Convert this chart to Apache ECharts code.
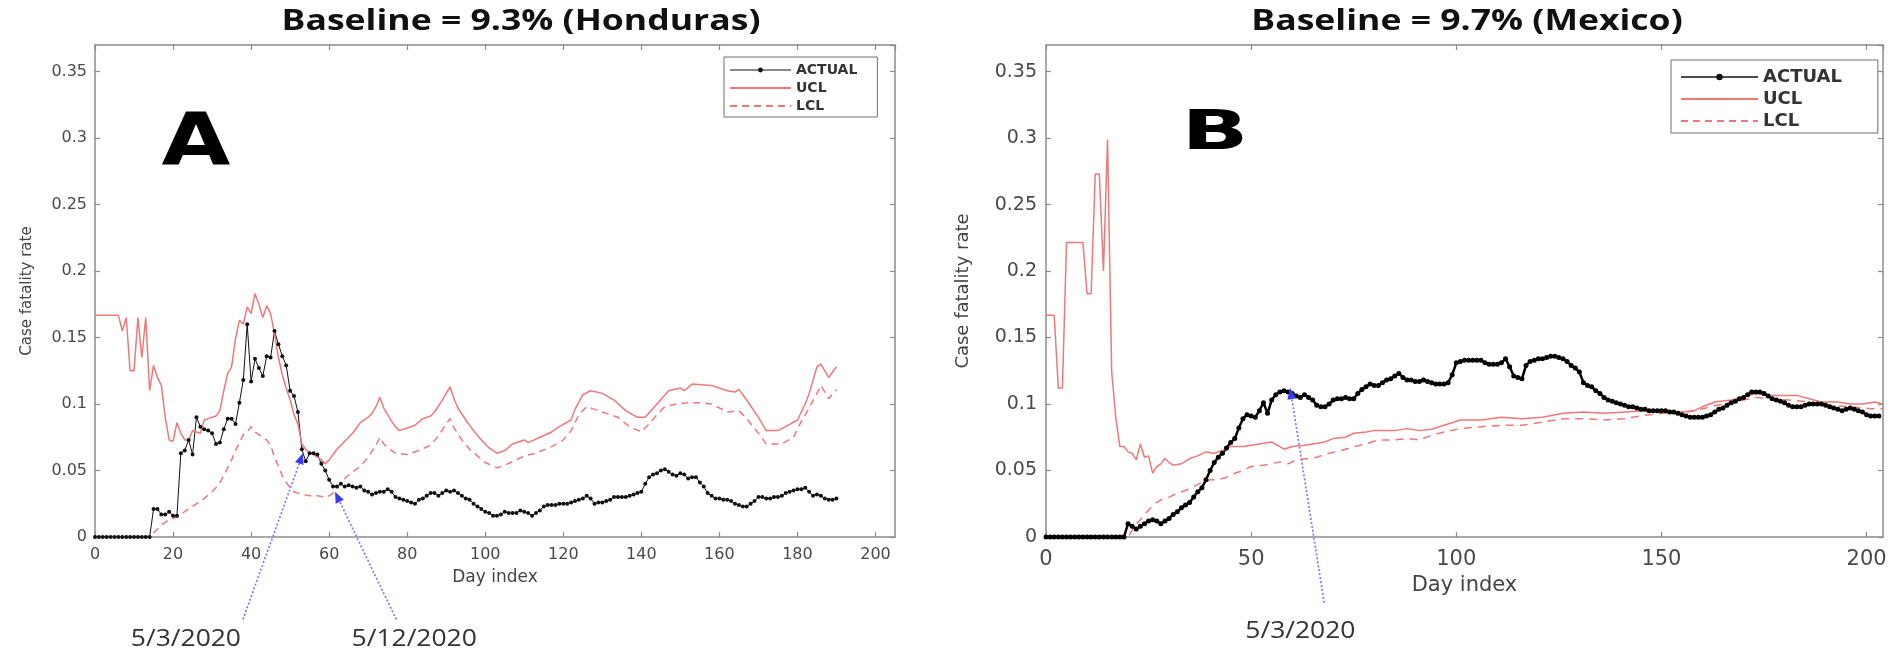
<!DOCTYPE html>
<html>
<head>
<meta charset="utf-8">
<title>Case fatality rate - control limits</title>
<script src="https://cdn.jsdelivr.net/npm/echarts/dist/echarts.min.js"></script>
<style>
    html, body { margin: 0; padding: 0; background: #fff; }
    #chart { width: 1888px; height: 653px; }
</style>
</head>
<body>
<div id="chart"></div>
<script>
(function() {
    'use strict';

    // ---- data (index = day) ----
    var titles = ['Baseline = 9.3% (Honduras)', 'Baseline = 9.7% (Mexico)'];
    var panelLetters = ['A', 'B'];
    var legendNames = ['ACTUAL', 'UCL', 'LCL'];
    var yTicks = [0, 0.05, 0.1, 0.15, 0.2, 0.25, 0.3, 0.35];

    // Honduras, observed CFR per day 0..190
    var actualA = [
        0, 0, 0, 0, 0, 0, 0, 0, 0, 0, 0, 0, 0, 0, 0,
        .021, .021, .017, .017, .019, .016, .016,
        .063, .065, .073, .062, .090, .083, .081, .080, .078, .070,
        .071, .081, .089, .089, .085, .101, .118, .160, .117, .134,
        .127, .121, .136, .135, .155, .145, .136, .129, .110, .106,
        .094, .066, .057, .063, .063, .062, .055, .050, .043, .038,
        .038, .040, .038, .039, .038, .037, .038, .035, .034, .032,
        .033, .034, .034, .036, .034, .030, .029, .028, .027, .026,
        .025, .028, .029, .031, .033, .033, .031, .033, .035, .034,
        .035, .033, .031, .029, .028, .025, .023, .021, .019, .018,
        .016, .016, .017, .019, .018, .018, .018, .020, .019, .018,
        .016, .018, .020, .023, .024, .024, .024, .025, .025, .025,
        .026, .027, .028, .029, .031, .029, .025, .026, .026, .027,
        .028, .030, .030, .030, .030, .031, .032, .033, .034, .040,
        .045, .047, .048, .050, .051, .049, .047, .046, .048, .047,
        .044, .045, .045, .041, .038, .033, .031, .029, .029, .028,
        .028, .027, .025, .024, .023, .023, .025, .027, .030, .030,
        .029, .029, .030, .030, .031, .033, .034, .035, .036, .036,
        .037, .034, .031, .032, .031, .029, .028, .028, .029
    ];
    // Honduras limits, [day, value]
    var uclA = [
        [0, .1667], [6, .1667], [7, .155], [8, .165], [9, .125], [10, .125], [11, .165], [12, .135],
        [13, .165], [14, .11], [15, .129], [16, .12], [17, .114], [18, .09], [19, .073], [20, .072],
        [21, .086], [22, .078], [23, .073], [24, .073], [25, .080], [26, .079], [27, .078], [28, .088],
        [29, .089], [30, .090], [31, .091], [32, .095], [33, .110], [34, .123], [35, .128], [36, .149],
        [37, .163], [38, .160], [39, .173], [40, .168], [41, .183], [42, .175], [43, .165], [44, .174],
        [45, .168], [46, .153], [47, .135], [48, .122], [49, .112], [50, .103], [51, .092], [52, .085],
        [53, .070], [54, .066], [55, .063], [56, .062], [57, .060], [58, .058], [59, .055], [60, .058],
        [61, .062], [62, .066], [63, .069], [64, .072], [65, .075], [66, .078], [67, .082], [68, .086],
        [69, .088], [70, .090], [71, .093], [72, .098], [73, .105], [74, .097], [75, .092], [76, .087],
        [77, .083], [78, .080], [80, .082], [82, .084], [84, .089], [86, .091], [87, .094], [89, .103],
        [91, .113], [92, .104], [93, .097], [95, .088], [97, .080], [99, .073], [101, .067], [103, .063],
        [105, .065], [107, .070], [110, .073], [111, .071], [114, .075], [117, .079], [119, .083],
        [122, .088], [123, .096], [125, .107], [127, .110], [130, .108], [133, .103], [136, .095],
        [139, .090], [141, .090], [144, .100], [147, .110], [150, .112], [151, .110], [153, .115],
        [158, .114], [162, .110], [164, .109], [165, .111], [167, .103], [170, .090], [172, .080],
        [175, .080], [177, .083], [180, .088], [182, .100], [183, .108], [185, .128], [186, .130],
        [188, .120], [190, .128]
    ];
    var lclA = [
        [0, 0], [14, 0], [15, .003], [16, .006], [17, .009], [18, .011], [19, .013], [20, .014],
        [21, .015], [22, .017], [23, .019], [25, .023], [27, .027], [28, .029], [30, .034], [31, .037],
        [32, .041], [33, .046], [34, .052], [35, .058], [36, .065], [37, .071], [38, .077], [39, .079],
        [40, .083], [41, .079], [42, .077], [43, .075], [44, .073], [45, .069], [46, .060], [47, .053],
        [48, .046], [49, .041], [50, .037], [51, .034], [53, .032], [55, .031], [57, .031], [59, .030],
        [60, .031], [61, .033], [62, .036], [63, .041], [64, .044], [66, .049], [68, .053], [70, .060],
        [72, .069], [73, .075], [74, .070], [75, .067], [77, .063], [80, .062], [83, .065], [86, .069],
        [88, .076], [90, .085], [91, .089], [92, .082], [94, .073], [96, .066], [98, .061], [100, .056],
        [103, .052], [105, .054], [108, .058], [110, .061], [113, .063], [117, .068], [120, .073],
        [122, .080], [124, .092], [126, .098], [128, .096], [130, .094], [134, .090], [137, .083],
        [140, .079], [142, .085], [144, .092], [146, .098], [149, .100], [152, .101], [155, .101],
        [158, .100], [160, .097], [162, .094], [165, .095], [167, .089], [170, .078], [172, .070],
        [176, .070], [179, .075], [181, .087], [183, .097], [185, .108], [186, .114], [188, .104],
        [190, .111]
    ];

    // Mexico, observed CFR per day 0..203
    var actualB = [
        0, 0, 0, 0, 0, 0, 0, 0, 0, 0, 0, 0, 0, 0, 0, 0, 0, 0, 0, 0,
        .010, .008, .006, .008, .010, .012, .013, .012, .010, .012,
        .014, .017, .019, .022, .024, .026, .030, .034, .037, .043,
        .050, .056, .060, .063, .067, .071, .074, .082, .089, .092,
        .091, .090, .095, .101, .093, .103, .107, .109, .110, .109,
        .108, .106, .105, .107, .105, .103, .099, .098, .098, .100,
        .103, .104, .104, .105, .104, .104, .108, .111, .113, .115,
        .114, .114, .116, .118, .119, .121, .123, .120, .118, .118,
        .117, .117, .118, .117, .116, .115, .115, .115, .116, .122,
        .131, .132, .133, .133, .133, .133, .133, .131, .130, .130,
        .130, .131, .134, .128, .121, .120, .119, .129, .132, .133,
        .134, .134, .135, .136, .136, .135, .134, .132, .129, .127,
        .124, .116, .114, .113, .110, .108, .105, .103, .102, .101,
        .100, .099, .098, .098, .097, .096, .096, .095, .095, .095,
        .095, .095, .094, .094, .093, .092, .091, .090, .090, .090,
        .090, .091, .092, .094, .096, .097, .099, .101, .102, .104,
        .105, .107, .109, .109, .109, .108, .106, .104, .103, .102,
        .101, .099, .098, .098, .098, .099, .100, .100, .100, .100,
        .099, .098, .097, .096, .095, .096, .097, .096, .095, .094,
        .092, .091, .091, .091
    ];
    var uclB = [
        [0, .1667], [2, .1667], [3, .112], [4, .112], [5, .2215], [9, .2215], [10, .183], [11, .183],
        [12, .273], [13, .273], [14, .20], [15, .299], [16, .125], [17, .09], [18, .068], [19, .068],
        [20, .064], [21, .063], [22, .058], [23, .070], [24, .060], [25, .061], [26, .048], [27, .053],
        [28, .055], [29, .059], [30, .056], [31, .054], [33, .055], [35, .059], [37, .061], [39, .064],
        [41, .063], [43, .065], [45, .068], [48, .068], [50, .069], [52, .070], [55, .0715], [57, .068],
        [58, .066], [60, .068], [63, .069], [65, .070], [68, .0715], [70, .074], [73, .075], [75, .078],
        [78, .079], [80, .080], [85, .080], [88, .0815], [91, .080], [94, .081], [97, .084], [101, .088],
        [106, .088], [111, .090], [116, .089], [121, .090], [126, .093], [131, .094], [136, .093],
        [141, .094], [146, .095], [150, .095], [155, .094], [158, .095], [160, .098], [163, .1015],
        [167, .103], [170, .105], [173, .108], [176, .1065], [183, .1065], [186, .104], [189, .1015],
        [193, .1015], [196, .100], [199, .100], [202, .1015], [204, .100]
    ];
    var lclB = [
        [0, 0], [20, 0], [21, .005], [22, .010], [23, .013], [24, .017], [25, .020], [26, .024],
        [27, .026], [28, .028], [30, .030], [32, .033], [34, .035], [36, .038], [38, .041], [40, .043],
        [42, .043], [44, .045], [46, .048], [48, .050], [50, .053], [53, .054], [55, .055], [57, .0565],
        [59, .055], [61, .058], [64, .059], [66, .060], [69, .063], [72, .065], [75, .068], [78, .070],
        [81, .073], [85, .073], [88, .074], [91, .073], [94, .0765], [97, .079], [101, .0815],
        [106, .083], [111, .084], [116, .084], [121, .0865], [126, .089], [131, .089], [136, .088],
        [141, .089], [146, .0915], [150, .093], [155, .093], [160, .0965], [165, .100], [170, .103],
        [173, .105], [176, .104], [181, .103], [186, .1015], [191, .099], [196, .098], [201, .0965],
        [204, .0965]
    ];

    // date call-outs, in data units of each panel
    var notesA = [
        {label: '5/3/2020', tail: [37.9, -0.062], head: [53.3, 0.063], at: [23.3, -0.077]},
        {label: '5/12/2020', tail: [77.2, -0.062], head: [61.5, 0.034], at: [81.8, -0.077]}
    ];
    var notesB = [
        {label: '5/3/2020', tail: [67.8, -0.0495], head: [59.5, 0.112], at: [62, -0.071]}
    ];

    // ---- styling ----
    var FONT = 'DejaVu Sans';
    var AXIS_GRAY = '#8c8c8c';
    var LABEL_GRAY = '#4a4a4a';
    var LIMIT_RED = '#f07878';
    var Y_MAX = 0.37;

    var panels = [
        {xMax: 205, xStep: 20, xLabel: 16, xMargin: 10, xName: 17, xNameGap: 32,
         yLabel: 16, yMargin: 8, yName: 15, yNameGap: 60},
        {xMax: 204, xStep: 50, xLabel: 21, xMargin: 12, xName: 21, xNameGap: 38,
         yLabel: 19, yMargin: 9, yName: 18, yNameGap: 74}
    ];

    function fmtY(v) {
        return v === 0 ? '0' : String(+v.toFixed(2));
    }

    function xAxisFor(g, pos) {
        var p = panels[g];
        return {
            type: 'value', gridIndex: g, position: pos,
            min: 0, max: p.xMax, interval: p.xStep,
            name: pos === 'bottom' ? 'Day index' : '',
            nameLocation: 'middle', nameGap: p.xNameGap,
            nameTextStyle: {fontFamily: FONT, fontSize: p.xName, color: '#444'},
            axisLine: {show: true, onZero: false, lineStyle: {color: AXIS_GRAY, width: 1.5}},
            axisTick: {show: true, inside: true, length: 5, lineStyle: {color: AXIS_GRAY, width: 1.2}},
            axisLabel: {show: pos === 'bottom', showMaxLabel: false, margin: p.xMargin,
                fontFamily: FONT, fontSize: p.xLabel, color: LABEL_GRAY},
            splitLine: {show: false}
        };
    }

    function yAxisFor(g, pos) {
        var p = panels[g];
        return {
            type: 'value', gridIndex: g, position: pos,
            min: 0, max: Y_MAX, interval: yTicks[1] - yTicks[0],
            name: pos === 'left' ? 'Case fatality rate' : '',
            nameLocation: 'middle', nameGap: p.yNameGap, nameRotate: 90,
            nameTextStyle: {fontFamily: FONT, fontSize: p.yName, color: '#444'},
            axisLine: {show: true, onZero: false, lineStyle: {color: AXIS_GRAY, width: 1.5}},
            axisTick: {show: true, inside: true, length: 5, lineStyle: {color: AXIS_GRAY, width: 1.2}},
            axisLabel: {show: pos === 'left', showMaxLabel: false, margin: p.yMargin,
                formatter: fmtY, fontFamily: FONT, fontSize: p.yLabel, color: LABEL_GRAY},
            splitLine: {show: false}
        };
    }

    function toPairs(arr) {
        return arr.map(function(v, i) { return [i, v]; });
    }

    function lineSeries(name, axis, data, style) {
        return {
            name: name, type: 'line', xAxisIndex: axis, yAxisIndex: axis,
            data: data,
            symbol: style.dot ? 'circle' : 'none',
            symbolSize: style.dot || 0,
            showSymbol: !!style.dot,
            itemStyle: {color: style.color},
            lineStyle: {color: style.color, width: style.width, type: style.type || 'solid'},
            emphasis: {disabled: true},
            silent: true
        };
    }

    // legend: limits are drawn as a bare line, no marker
    function legendFor(left, top, s) {
        return {
            data: legendNames.map(function(n) {
                if (n === 'ACTUAL') {
                    return {name: n, lineStyle: {width: s.actualW}};
                }
                return {name: n, itemStyle: {color: 'rgba(0,0,0,0)', opacity: 0}};
            }),
            orient: 'vertical', left: left, top: top,
            itemWidth: s.itemW, itemHeight: s.itemH, itemGap: s.gap,
            padding: s.pad,
            borderColor: '#6e6e6e', borderWidth: 1, borderRadius: 0,
            backgroundColor: '#fff',
            selectedMode: false,
            textStyle: {fontFamily: FONT, fontSize: s.font, fontWeight: 'bold', color: '#333'}
        };
    }

    var chart = echarts.init(document.getElementById('chart'), null, {renderer: 'canvas'});

    chart.setOption({
        animation: false,
        backgroundColor: '#fff',
        grid: [
            {left: 95, top: 45, width: 800, height: 492, outerBoundsMode: 'none'},
            {left: 1046, top: 45, width: 837, height: 492, outerBoundsMode: 'none'}
        ],
        xAxis: [xAxisFor(0, 'bottom'), xAxisFor(0, 'top'), xAxisFor(1, 'bottom'), xAxisFor(1, 'top')],
        yAxis: [yAxisFor(0, 'left'), yAxisFor(0, 'right'), yAxisFor(1, 'left'), yAxisFor(1, 'right')],
        legend: [
            legendFor(724, 57, {itemW: 61, itemH: 6, gap: 4, pad: [6, 20, 4, 5], font: 14, actualW: 1}),
            legendFor(1671, 60, {itemW: 77, itemH: 8, gap: 4, pad: [8, 36, 3, 9], font: 18, actualW: 1.5})
        ],
        series: [
            lineSeries('ACTUAL', 0, toPairs(actualA), {color: '#111', width: 1, dot: 4}),
            lineSeries('UCL', 0, uclA, {color: LIMIT_RED, width: 1.5}),
            lineSeries('LCL', 0, lclA, {color: LIMIT_RED, width: 1.5, type: [7, 5]}),
            lineSeries('ACTUAL', 2, toPairs(actualB), {color: '#000', width: 2.5, dot: 5}),
            lineSeries('UCL', 2, uclB, {color: LIMIT_RED, width: 1.5}),
            lineSeries('LCL', 2, lclB, {color: LIMIT_RED, width: 1.5, type: [8, 6]})
        ]
    });

    // titles, big panel letters and the dated arrows (arrows need pixel positions)
    function callouts(seriesIndex, notes) {
        var out = [];
        notes.forEach(function(n) {
            var p0 = chart.convertToPixel({seriesIndex: seriesIndex}, n.tail);
            var p1 = chart.convertToPixel({seriesIndex: seriesIndex}, n.head);
            var pt = chart.convertToPixel({seriesIndex: seriesIndex}, n.at);
            var ang = Math.atan2(p1[1] - p0[1], p1[0] - p0[0]);
            var len = 11, half = 4.5;
            var bx = p1[0] - len * Math.cos(ang), by = p1[1] - len * Math.sin(ang);
            out.push({
                type: 'line', silent: true, z: 20,
                shape: {x1: p0[0], y1: p0[1], x2: bx, y2: by},
                style: {stroke: '#7373ff', lineWidth: 1.6, lineDash: [2, 2]}
            });
            out.push({
                type: 'polygon', silent: true, z: 21,
                shape: {points: [
                    [p1[0], p1[1]],
                    [bx - half * Math.sin(ang), by + half * Math.cos(ang)],
                    [bx + half * Math.sin(ang), by - half * Math.cos(ang)]
                ]},
                style: {fill: '#3a3af0'}
            });
            out.push({
                type: 'text', silent: true, x: pt[0], y: pt[1], scaleX: 1.15,
                style: {text: n.label, fontFamily: 'Open Sans', fontSize: 23, fill: '#333',
                    align: 'center', verticalAlign: 'middle'}
            });
        });
        return out;
    }

    var graphics = [
        {type: 'text', silent: true, x: 521, y: 22, scaleX: 1.27,
         style: {text: titles[0], fontFamily: 'Open Sans', fontWeight: 'bold', fontSize: 28,
             fill: '#111', align: 'center', verticalAlign: 'middle'}},
        {type: 'text', silent: true, x: 1467, y: 22, scaleX: 1.27,
         style: {text: titles[1], fontFamily: 'Open Sans', fontWeight: 'bold', fontSize: 28,
             fill: '#111', align: 'center', verticalAlign: 'middle'}},
        {type: 'text', silent: true, x: 196, y: 146, scaleX: 1.22,
         style: {text: panelLetters[0], fontFamily: FONT, fontWeight: 'bold', fontSize: 73,
             fill: '#000', align: 'center', verticalAlign: 'middle'}},
        {type: 'text', silent: true, x: 1215, y: 135, scaleX: 1.6,
         style: {text: panelLetters[1], fontFamily: FONT, fontWeight: 'bold', fontSize: 55,
             fill: '#000', align: 'center', verticalAlign: 'middle'}}
    ].concat(callouts(0, notesA), callouts(3, notesB));

    chart.setOption({graphic: graphics});
})();
</script>
</body>
</html>
